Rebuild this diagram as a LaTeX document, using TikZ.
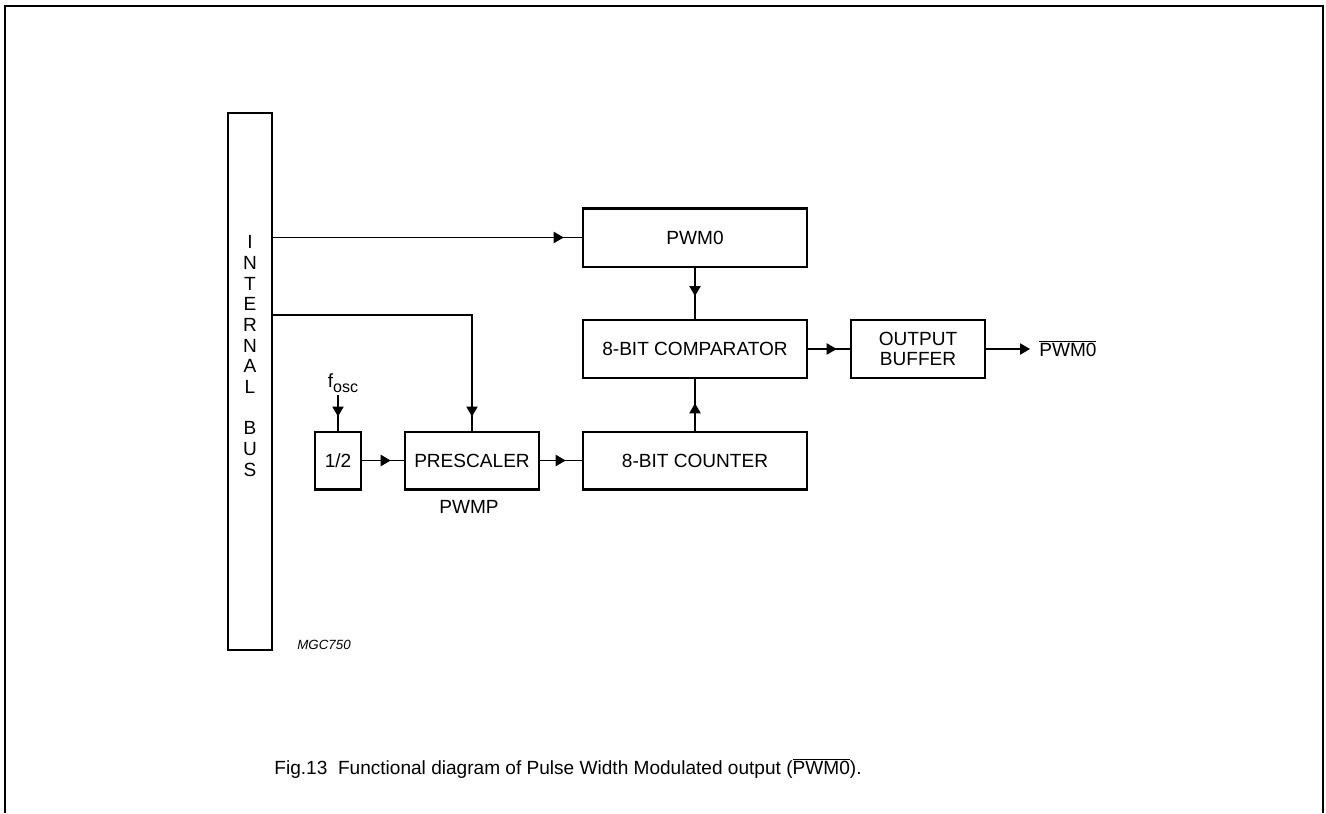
\documentclass[tikz,border=0pt]{standalone}
\usepackage{fontspec}
\setmainfont{Liberation Sans}
\usetikzlibrary{arrows.meta,decorations.markings}
\tikzset{
  blk/.style={draw, line width=2pt, rectangle, inner sep=0pt, align=center, font=\fontsize{14.3}{16}\selectfont},
  conn/.style={line width=0.9pt},
  midarr/.style={postaction={decorate,decoration={markings,mark=at position -#1 with {\arrow{Triangle[length=7.5pt,width=8.5pt]}}}}},
  lbl/.style={inner sep=0pt, font=\fontsize{14.3}{16}\selectfont},
}
\begin{document}
\begin{tikzpicture}[x=0.75pt,y=-0.75pt]
\useasboundingbox (0,0) rectangle (1326,813);
% frame
\draw[line width=1.6pt] (5,813) -- (5,6) -- (1323,6) -- (1323,813);
% blocks
\node[blk, minimum width=33pt, minimum height=402.75pt] (bus) at (250,381.5) {};
\node[lbl, align=center, font=\fontsize{14.3}{15.5}\selectfont] (bustext) at (250,356) {I\\N\\T\\E\\R\\N\\A\\L\\[15.5pt]B\\U\\S};
\node[blk, minimum width=168pt, minimum height=44pt] (pwm) at (695,237.5) {PWM0};
\node[blk, minimum width=168pt, minimum height=43.5pt] (comp) at (695,349) {8-BIT COMPARATOR};
\node[blk, minimum width=168pt, minimum height=43pt] (cnt) at (695,460.5) {8-BIT COUNTER};
\node[blk, minimum width=34.5pt, minimum height=43pt] (half) at (338,460.5) {1/2};
\node[blk, minimum width=100.5pt, minimum height=43pt] (presc) at (472,460.5) {PRESCALER};
\node[blk, minimum width=100.5pt, minimum height=43.5pt, font=\fontsize{14.3}{14.5}\selectfont] (obuf) at (918,349) {OUTPUT\\BUFFER};
% labels
\node[lbl] (fosc) at (343,383) {f\raisebox{-0.55ex}{\fontsize{12}{12}\selectfont osc}};
\node[lbl] (pwmp) at (469,507) {PWMP};
\node[lbl, anchor=west] (out) at (1039,349) {$\overline{\hbox{PWM0}}$};
\node[lbl, font=\fontsize{10}{12}\itshape] (mgc) at (324,645) {MGC750};
\node[lbl, font=\fontsize{14.3}{18}\selectfont] (cap) at (568,768) {Fig.13\ \ Functional diagram of Pulse Width Modulated output ($\overline{\hbox{PWM0}}$).};
% connectors
\coordinate (tap) at (472,315);
\coordinate (fo) at (338,395);
\coordinate (oend) at (1030,349);
\draw[conn, midarr=13.5pt] (bus.east |- pwm.west) -- (pwm.west);
\draw[conn, midarr=10.5pt] (bus.east |- tap) -- (tap) -- (presc.north);
\draw[conn, midarr=10.5pt] (fo) -- (half.north);
\draw[conn, midarr=9.75pt] (half.east) -- (presc.west);
\draw[conn, midarr=12pt] (presc.east) -- (cnt.west);
\draw[conn, midarr=17pt] (pwm.south) -- (comp.north);
\draw[conn, midarr=18pt] (cnt.north) -- (comp.south);
\draw[conn, midarr=9.75pt] (comp.east) -- (obuf.west);
\draw[conn, -{Triangle[length=7.5pt,width=8.5pt]}] (obuf.east) -- (oend);
\end{tikzpicture}
\end{document}
